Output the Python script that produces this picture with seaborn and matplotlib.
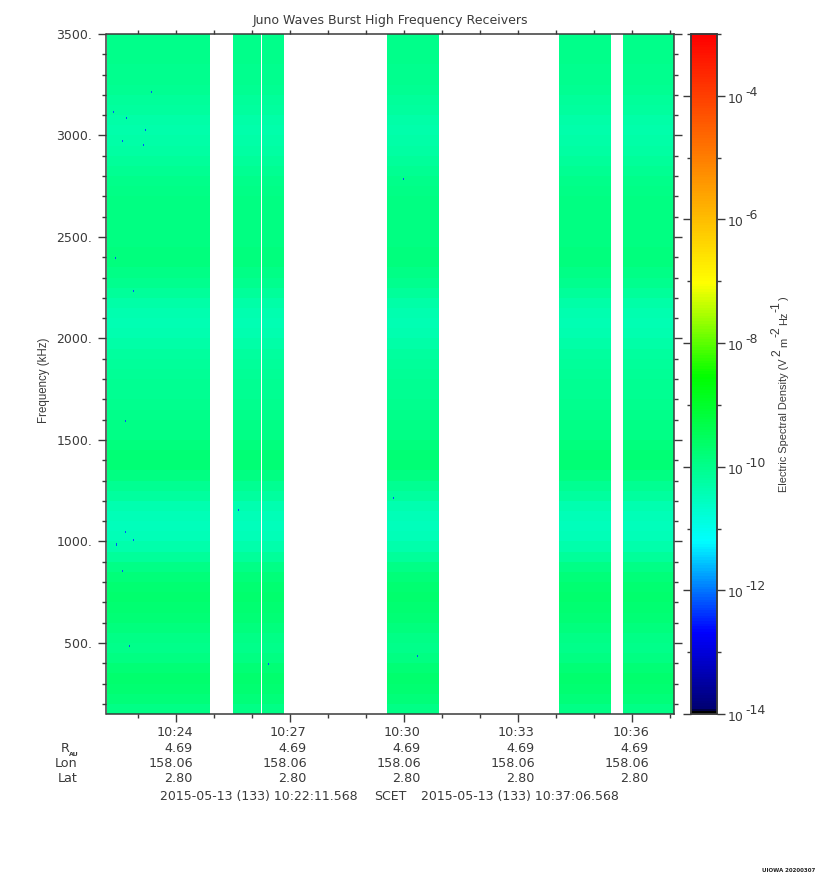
#!/usr/bin/env python3

import numpy as np
import pandas as pd
from matplotlib import pyplot as plt
from matplotlib.colors import LinearSegmentedColormap, LogNorm
import seaborn as sns

t_start = "10:22:11.568"
t_end = "10:37:06.568"

seg_start = ["10:22:11.6", "10:25:29.9", "10:26:15.6", "10:29:34.0", "10:34:05.0", "10:35:45.7"]
seg_end = ["10:24:53.8", "10:26:14.0", "10:26:50.3", "10:30:55.9", "10:35:26.9", "10:37:06.5"]

# log10 density per 50 kHz band, 150 kHz upwards
band_log = [-9.92, -9.82, -9.72, -9.68, -9.76, -9.90, -9.98, -9.95, -9.85, -9.78,
            -9.72, -9.68, -9.72, -9.82, -9.95, -10.15, -10.32, -10.45, -10.50, -10.45,
            -10.35, -10.20, -10.05, -9.90, -9.78, -9.76, -9.85, -9.92, -9.96, -10.00,
            -10.02, -10.05, -10.08, -10.12, -10.15, -10.20, -10.28, -10.36, -10.40, -10.36,
            -10.28, -10.16, -10.04, -9.92, -9.85, -9.85, -9.88, -9.88, -9.88, -9.88,
            -9.90, -9.94, -10.00, -10.08, -10.16, -10.24, -10.30, -10.32, -10.28, -10.20,
            -10.14, -10.08, -10.04, -10.02, -10.00, -10.00, -10.00]

# isolated low pixels
speck_time = ["10:23:22.5", "10:22:22.6", "10:22:43.0", "10:23:13.0", "10:22:36.8", "10:23:09.8",
              "10:22:25.7", "10:22:54.0", "10:22:40.0", "10:22:40.0", "10:22:54.0", "10:22:27.3",
              "10:22:36.8", "10:22:47.8", "10:25:39.8", "10:26:26.7", "10:30:21.6", "10:29:43.6",
              "10:29:59.6"]
speck_freq = [3219, 3115, 3081, 3027, 2973, 2958, 2396, 2234, 1598, 1047, 1007, 987, 854, 480,
              1150, 396, 431, 1219, 2785]
speck_log = -12.2

freq_min = 150
freq_max = 3500
band_width = 50
row_width = 10
n_cols = 567

major_times = ["10:24", "10:27", "10:30", "10:33", "10:36"]
minor_times = ["10:23", "10:25", "10:26", "10:28", "10:29", "10:31", "10:32", "10:34", "10:35", "10:37"]
major_freqs = [500, 1000, 1500, 2000, 2500, 3000, 3500]
minor_freqs = [f for f in range(200, 3500, 100) if f % 500 != 0]

rau_labels = ["4.69"] * 5
lon_labels = ["158.06"] * 5
lat_labels = ["2.80"] * 5

cbar_major = [-14, -12, -10, -8, -6, -4]
cbar_minor = [-13, -11, -9, -7, -5, -3]

ink = "#3a3a3a"

cmap = LinearSegmentedColormap.from_list("das2", [
    (0.0, "#000000"), (0.003, "#000000"), (0.0045, "#000070"),
    (0.119, "#0000ff"), (0.253, "#00ffff"), (0.496, "#00ff00"),
    (0.634, "#ffff00"), (1.0, "#ff0000")], N=256)


def secs(clock):
    if clock.count(":") == 1:
        clock = clock + ":00"
    return pd.to_timedelta(clock).total_seconds()


t0 = secs(t_start)
col_secs = (secs(t_end) - t0) / n_cols


def col_pos(clock):
    return (secs(clock) - t0) / col_secs


def row_pos(freq):
    return (freq - freq_min) / row_width


# rows x time columns, NaN where there is no burst capture
rows = np.repeat(band_log, band_width // row_width)
grid = np.full((len(rows), n_cols), np.nan)
for a, b in zip(seg_start, seg_end):
    i0, i1 = int(round(col_pos(a))), int(round(col_pos(b)))
    grid[:, i0:i1] = rows[:, None]
for clock, freq in zip(speck_time, speck_freq):
    grid[int(row_pos(freq)), int(col_pos(clock))] = speck_log

df = pd.DataFrame(10.0 ** grid)

sns.set_style("white")

W, H = 815, 880
fig = plt.figure(figsize=(W / 100, H / 100), dpi=100)
ax = fig.add_axes([107 / W, 1 - 714 / H, 567 / W, 680 / H])
cax = fig.add_axes([691 / W, 1 - 714 / H, 26 / W, 680 / H])

sns.heatmap(df, ax=ax, cbar_ax=cax, cmap=cmap, norm=LogNorm(vmin=1e-14, vmax=1e-3),
            xticklabels=False, yticklabels=False)
ax.set_ylim(0, len(rows))
ax.set_xlim(0, n_cols)

for s in ax.spines.values():
    s.set_visible(True)
    s.set_color(ink)
    s.set_linewidth(1.1)
ax.spines["left"].set_position(("outward", 0.7))

ax.set_xticks([col_pos(t) for t in major_times])
ax.set_xticks([col_pos(t) for t in minor_times], minor=True)
ax.set_yticks([row_pos(f) for f in major_freqs])
ax.set_yticks([row_pos(f) for f in minor_freqs], minor=True)
ax.set_yticklabels([f"{f}." for f in major_freqs])
ax.set_xticklabels([])
ax.tick_params(which="major", length=6, width=1, color=ink, direction="out",
               bottom=True, top=True, left=True, right=True,
               labelsize=9, labelcolor=ink, pad=4)
ax.tick_params(which="minor", length=3.2, width=1, color=ink, direction="out",
               bottom=True, top=True, left=True, right=True)
# top axis carries short ticks only
for tick in ax.xaxis.get_major_ticks():
    tick.tick2line.set_markersize(3.2)
plt.setp(ax.get_yticklabels(), rotation=0)

ax.text(0.5, 1.01, "Juno Waves Burst High Frequency Receivers", transform=ax.transAxes,
        ha="center", va="bottom", fontsize=9, color=ink)
fig.text(44 / W, 1 - 380 / H, "Frequency (kHz)", rotation=90, ha="center", va="center",
         fontsize=8.3, color=ink, family="Liberation Sans")

# ephemeris rows under the time axis
row_tables = [(732, major_times), (748, rau_labels), (763, lon_labels), (778, lat_labels)]
for y_px, labels in row_tables:
    for t, lab in zip(major_times, labels):
        x_px = ax.transData.transform((col_pos(t), 0))[0]
        fig.text((x_px + 17) / W, 1 - y_px / H, lab, ha="right", va="center",
                 fontsize=9.2, color=ink)
fig.text(70 / W, 1 - 748 / H, "R", ha="right", va="center", fontsize=9.2, color=ink)
fig.text(78.5 / W, 1 - 754 / H, "AU", ha="right", va="center", fontsize=4.5, color=ink,
         fontweight="bold")
fig.text(78 / W, 1 - 763 / H, "Lon", ha="right", va="center", fontsize=9.2, color=ink)
fig.text(78 / W, 1 - 778 / H, "Lat", ha="right", va="center", fontsize=9.2, color=ink)

fig.text(160 / W, 1 - 796 / H, "2015-05-13 (133) 10:22:11.568", ha="left", va="center",
         fontsize=9, color=ink)
fig.text(390 / W, 1 - 796 / H, "SCET", ha="center", va="center", fontsize=9, color=ink)
fig.text(619 / W, 1 - 796 / H, "2015-05-13 (133) 10:37:06.568", ha="right", va="center",
         fontsize=9, color=ink)
fig.text(815 / W, 1 - 870 / H, "UIOWA 20200307", ha="right", va="center", fontsize=4,
         color="#222222", fontweight="bold")

# colorbar
for s in cax.spines.values():
    s.set_visible(True)
    s.set_color(ink)
    s.set_linewidth(1.1)
cax.set_yscale("log")
cax.set_ylim(1e-14, 1e-3)
cax.yaxis.set_ticks([10.0 ** e for e in cbar_major])
cax.yaxis.set_ticks([10.0 ** e for e in cbar_minor], minor=True)
cax.set_yticklabels([])
cax.yaxis.set_ticklabels([], minor=True)
cax.tick_params(which="major", length=6, width=1, color=ink, left=True, right=True)
cax.tick_params(which="minor", length=3.2, width=1, color=ink, left=True, right=True)

for e in cbar_major:
    yy = 714 - (e + 14) * 680 / 11
    fig.text(728 / W, 1 - (yy - 3) / H, "10", ha="left", va="top", fontsize=9, color=ink)
    fig.text(745 / W, 1 - (yy + 3) / H, f"{e}", ha="left", va="bottom", fontsize=9, color=ink)

# label pieces, exponents stand nearly as large as the base text
label_bits = [("Electric Spectral Density (V", 492, 784, 7.9),
              ("2", 356, 777, 8.8),
              ("m", 347, 784, 7.9),
              ("-2", 337, 777, 8.8),
              ("Hz", 325, 784, 7.9),
              ("-1", 312, 777, 8.8),
              (")", 300, 784, 7.9)]
for txt, y_px, x_px, size in label_bits:
    fig.text(x_px / W, 1 - y_px / H, txt, rotation=90, ha="center", va="bottom",
             fontsize=size, color=ink, family="Liberation Sans")

plt.savefig("out.png", dpi=100)
